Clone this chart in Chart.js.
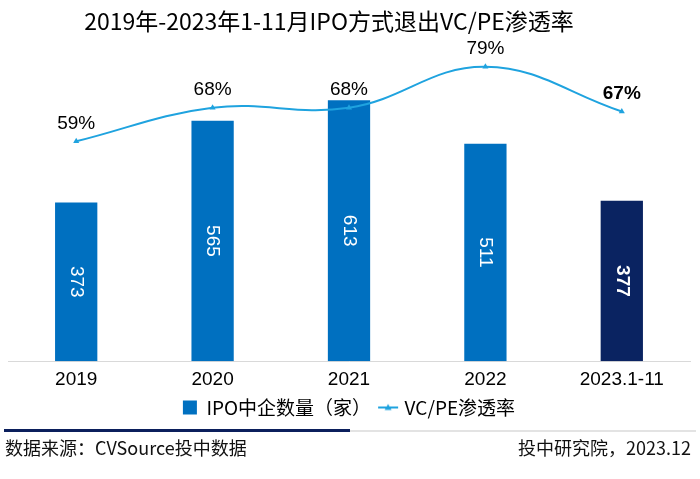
<!DOCTYPE html>
<html>
<head>
<meta charset="utf-8">
<script src="https://cdn.jsdelivr.net/npm/chart.js@4/dist/chart.umd.min.js"></script>
<style>
html,body{margin:0;padding:0;background:#fff;}
#wrap{position:relative;width:700px;height:479px;}
</style>
</head>
<body>
<div id="wrap"><canvas id="c" width="700" height="479"></canvas></div>
<script>
const categories = ['2019', '2020', '2021', '2022', '2023.1-11'];
const ipoCounts = [373, 565, 613, 511, 377];
const vcpeRates = [59, 68, 68, 79, 67];
const titleText = '2019年-2023年1-11月IPO方式退出VC/PE渗透率';
const barLabel = 'IPO中企数量（家）';
const lineLabel = 'VC/PE渗透率';
const sourceText = '数据来源：CVSource投中数据';
const creditText = '投中研究院，2023.12';

const BAR_BLUE = '#0070c0';
const BAR_NAVY = '#0a2361';
const LINE_BLUE = '#1fa3df';
const CJK = '"Noto Sans CJK SC", "Liberation Sans", sans-serif';
const LAT = '"Liberation Sans", Arial, sans-serif';

const lineIcon = document.createElement('canvas');
lineIcon.width = 22; lineIcon.height = 10;
(function(){
  const g = lineIcon.getContext('2d');
  g.strokeStyle = LINE_BLUE; g.lineWidth = 2;
  g.beginPath(); g.moveTo(1,5); g.lineTo(21,5); g.stroke();
  g.fillStyle = LINE_BLUE;
  g.beginPath(); g.moveTo(11,1.5); g.lineTo(14.5,7.5); g.lineTo(7.5,7.5); g.closePath(); g.fill();
})();

const decorPlugin = {
  id: 'decor',
  afterDraw(chart) {
    const ctx = chart.ctx;
    ctx.save();
    ctx.fillStyle = '#000';
    ctx.font = '23px ' + CJK;
    ctx.textAlign = 'center';
    ctx.textBaseline = 'middle';
    ctx.fillText(titleText, 329, 21, 498);
    ctx.fillStyle = '#e3e3e3';
    ctx.fillRect(350, 430, 346, 2);
    ctx.fillStyle = '#0b1f5c';
    ctx.fillRect(4, 429, 346, 3);
    ctx.fillStyle = '#111';
    ctx.font = '18px ' + CJK;
    ctx.textAlign = 'left';
    ctx.fillText(sourceText, 5, 448);
    ctx.textAlign = 'right';
    ctx.fillText(creditText, 691, 448);
    ctx.restore();
  }
};

const labelPlugin = {
  id: 'valueLabels',
  afterDatasetsDraw(chart) {
    const ctx = chart.ctx;
    ctx.save();
    const bm = chart.getDatasetMeta(0);
    bm.data.forEach((el, i) => {
      const last = i === ipoCounts.length - 1;
      ctx.save();
      ctx.translate(el.x, (el.y + el.base) / 2);
      ctx.rotate(Math.PI / 2);
      ctx.fillStyle = '#fff';
      ctx.font = (last ? 'bold ' : '') + '19px ' + LAT;
      ctx.textAlign = 'center';
      ctx.textBaseline = 'middle';
      ctx.fillText(String(ipoCounts[i]), 0, 0);
      ctx.restore();
    });
    const lm = chart.getDatasetMeta(1);
    lm.data.forEach((el, i) => {
      const last = i === vcpeRates.length - 1;
      ctx.fillStyle = '#000';
      ctx.font = (last ? 'bold ' : '') + '19px ' + LAT;
      ctx.textAlign = 'center';
      ctx.textBaseline = 'middle';
      ctx.fillText(vcpeRates[i] + '%', el.x, el.y - 18);
    });
    ctx.restore();
  }
};

new Chart(document.getElementById('c'), {
  data: {
    labels: categories,
    datasets: [
      {
        type: 'bar',
        label: barLabel,
        data: ipoCounts,
        backgroundColor: ipoCounts.map((v, i) => i === ipoCounts.length - 1 ? BAR_NAVY : BAR_BLUE),
        barPercentage: 0.31,
        categoryPercentage: 1,
        yAxisID: 'y',
        order: 2
      },
      {
        type: 'line',
        label: lineLabel,
        data: vcpeRates,
        borderColor: LINE_BLUE,
        backgroundColor: LINE_BLUE,
        borderWidth: 2,
        tension: 0.4,
        pointStyle: 'triangle',
        pointRadius: 3.5,
        pointBorderWidth: 0,
        pointBackgroundColor: LINE_BLUE,
        yAxisID: 'y2',
        clip: false,
        order: 1
      }
    ]
  },
  options: {
    responsive: false,
    devicePixelRatio: 1,
    animation: false,
    layout: { padding: { top: 50, left: 8, right: 10, bottom: 52 } },
    scales: {
      x: {
        grid: { display: false, drawTicks: false },
        border: { display: true, color: '#d9d9d9', width: 1 },
        ticks: { color: '#000', font: { size: 19, family: LAT }, padding: 7 },
        afterFit(scale) { scale.height = scale.height - 10; }
      },
      y: { display: false, min: 0, max: 731 },
      y2: { display: false, min: 0, max: 83.5 }
    },
    plugins: {
      legend: {
        position: 'bottom',
        labels: {
          color: '#000',
          font: { size: 19, family: CJK },
          usePointStyle: true,
          boxHeight: 14,
          pointStyleWidth: 14,
          padding: 10,
          generateLabels(chart) {
            const items = Chart.defaults.plugins.legend.labels.generateLabels(chart);
            items.sort((a, b) => a.datasetIndex - b.datasetIndex);
            items.forEach(it => {
              if (it.datasetIndex === 0) {
                it.pointStyle = 'rect';
                it.fillStyle = BAR_BLUE;
                it.strokeStyle = BAR_BLUE;
                it.lineWidth = 0;
              } else {
                it.pointStyle = lineIcon;
              }
            });
            return items;
          }
        }
      },
      tooltip: { enabled: false },
      title: { display: false }
    }
  },
  plugins: [labelPlugin, decorPlugin]
});
</script>
</body>
</html>
